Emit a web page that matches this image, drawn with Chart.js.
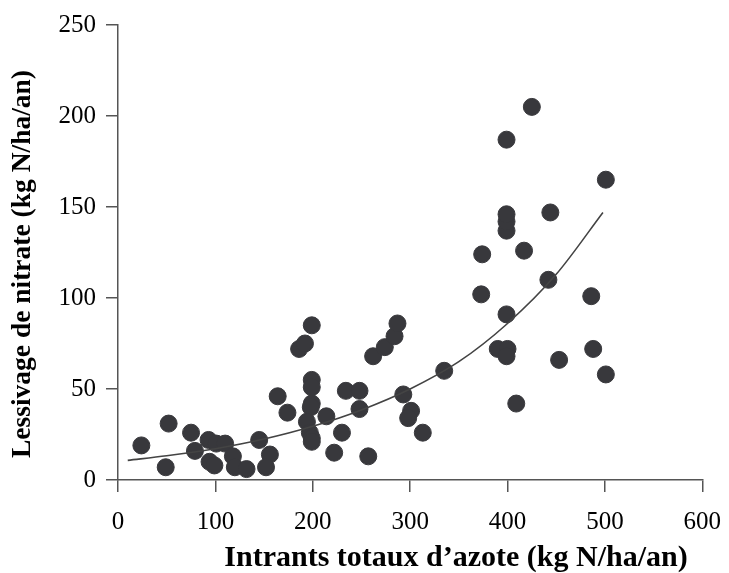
<!DOCTYPE html>
<html>
<head>
<meta charset="utf-8">
<script src="https://cdn.jsdelivr.net/npm/chart.js@4"></script>
<style>
  html, body { margin: 0; padding: 0; background: #fff; }
  #wrap { width: 729px; height: 573px; }
</style>
</head>
<body>
<div id="wrap"><canvas id="chart" width="729" height="573"></canvas></div>
<script>
// points
const inputN = [24, 49, 52, 75, 79, 93, 101, 110, 94, 99, 118, 120, 132, 145, 156, 152, 164, 174,
  186, 192, 199, 199, 199, 199, 198, 194, 197, 199, 199, 214, 222, 230, 234, 248, 248, 257,
  262, 274, 284, 287, 293, 301, 298, 313, 335, 373, 374, 390, 399, 400, 399, 399, 399, 399,
  399, 409, 417, 425, 442, 444, 453, 486, 488, 501, 501];
const leaching = [19, 7, 31, 26, 16, 22, 20, 20, 10, 8, 13, 7, 6, 22, 14, 7, 46, 37,
  72, 75, 85, 55, 51, 42, 40, 32, 26, 23, 21, 35, 15, 26, 49, 49, 39, 13,
  68, 73, 79, 86, 47, 38, 34, 26, 60, 102, 124, 72, 91, 72, 68, 137, 142, 146,
  187, 42, 126, 205, 110, 147, 66, 101, 72, 165, 58];

// fitted curve, read at a few x positions
const trendX = [10, 50, 100, 150, 200, 250, 300, 350, 400, 450, 498];
const trendY = [10.8, 13.3, 17.2, 22.5, 29.5, 38.5, 50, 65, 86, 113, 147];

const xTicks = [0, 100, 200, 300, 400, 500, 600];
const yTicks = [0, 50, 100, 150, 200, 250];

const xTitle = 'Intrants totaux d\u2019azote (kg N/ha/an)';
const yTitle = 'Lessivage de nitrate (kg N/ha/an)';

const serif = '"Liberation Serif", "Times New Roman", serif';
const axisColor = '#555';
const dotColor = '#38383c';

const points = inputN.map((x, i) => ({ x, y: leaching[i] }));
const curve = trendX.map((x, i) => ({ x, y: trendY[i] }));

// axis titles sit a bit off-centre in the original, so draw them by hand
const axisTitles = {
  id: 'axisTitles',
  afterDraw(chart) {
    const ctx = chart.ctx;
    ctx.save();
    ctx.fillStyle = '#000';
    ctx.textAlign = 'center';
    ctx.textBaseline = 'middle';
    ctx.font = 'bold 30px ' + serif;
    ctx.fillText(xTitle, 456, 558);
    ctx.translate(23, 264);
    ctx.rotate(-Math.PI / 2);
    ctx.font = 'bold 27.5px ' + serif;
    ctx.fillText(yTitle, 0, 0);
    ctx.restore();
  }
};

new Chart(document.getElementById('chart'), {
  type: 'scatter',
  data: {
    datasets: [
      {
        data: points,
        backgroundColor: dotColor,
        borderColor: dotColor,
        pointRadius: 8.5,
        pointHoverRadius: 8.5,
        order: 2
      },
      {
        type: 'line',
        data: curve,
        borderColor: '#444',
        borderWidth: 1.6,
        pointRadius: 0,
        fill: false,
        tension: 0.4,
        cubicInterpolationMode: 'monotone',
        order: 1
      }
    ]
  },
  options: {
    responsive: false,
    animation: false,
    layout: { padding: { top: 19, right: 26, bottom: 0, left: 0 } },
    plugins: { legend: { display: false }, tooltip: { enabled: false } },
    scales: {
      x: {
        type: 'linear',
        min: 0, max: 600,
        afterBuildTicks: (s) => { s.ticks = xTicks.map(v => ({ value: v })); },
        afterFit: (s) => { s.height = 93; },
        ticks: { color: '#000', font: { family: serif, size: 25, lineHeight: 1.76 }, padding: 8, maxRotation: 0 },
        grid: { drawOnChartArea: false, drawTicks: true, tickLength: 12, color: axisColor, lineWidth: 1.5 },
        border: { color: axisColor, width: 1.5 }
      },
      y: {
        type: 'linear',
        min: 0, max: 250,
        afterBuildTicks: (s) => { s.ticks = yTicks.map(v => ({ value: v })); },
        afterFit: (s) => { s.width = 118; },
        ticks: { color: '#000', font: { family: serif, size: 25 }, padding: 10 },
        grid: { drawOnChartArea: false, drawTicks: true, tickLength: 12, color: axisColor, lineWidth: 1.5 },
        border: { color: axisColor, width: 1.5 }
      }
    }
  },
  plugins: [axisTitles]
});
</script>
</body>
</html>
